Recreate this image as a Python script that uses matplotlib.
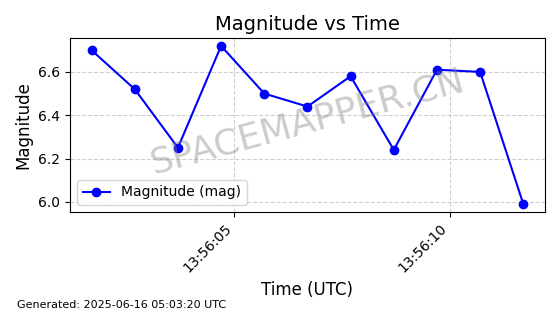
import pandas as pd
import matplotlib
matplotlib.use("Agg")
import matplotlib.pyplot as plt
import matplotlib.dates as mdates

# dados
tempos = ["2025-06-16 13:56:01.7", "2025-06-16 13:56:02.7", "2025-06-16 13:56:03.7",
          "2025-06-16 13:56:04.7", "2025-06-16 13:56:05.7", "2025-06-16 13:56:06.7",
          "2025-06-16 13:56:07.7", "2025-06-16 13:56:08.7", "2025-06-16 13:56:09.7",
          "2025-06-16 13:56:10.7", "2025-06-16 13:56:11.7"]
magnitudes = [6.70, 6.52, 6.25, 6.72, 6.50, 6.44, 6.58, 6.24, 6.61, 6.60, 5.99]

x = pd.to_datetime(tempos)

fig, ax = plt.subplots(figsize=(5.6, 3.14), dpi=100)
fig.subplots_adjust(left=0.125, right=0.973, top=0.879, bottom=0.325)

ax.plot(x, magnitudes, marker='o', linestyle='-', color='blue', label='Magnitude (mag)')
ax.set_title('Magnitude vs Time', fontsize=14)
ax.set_xlabel('Time (UTC)', fontsize=12)
ax.set_ylabel('Magnitude', fontsize=12)
ax.grid(True, linestyle='--', alpha=0.6)
ax.legend(loc='lower left')

ax.xaxis.set_major_locator(mdates.SecondLocator(bysecond=range(0, 60, 5)))
ax.xaxis.set_major_formatter(mdates.DateFormatter('%H:%M:%S'))
plt.setp(ax.get_xticklabels(), rotation=45, ha='right')

ax.text(0.5, 0.52, 'SPACEMAPPER.CN', transform=ax.transAxes, fontsize=26,
        color='gray', alpha=0.4, ha='center', va='center', rotation=15)

fig.text(0.03, 0.02, 'Generated: 2025-06-16 05:03:20 UTC', fontsize=8)

plt.savefig('out.png', dpi=100)
